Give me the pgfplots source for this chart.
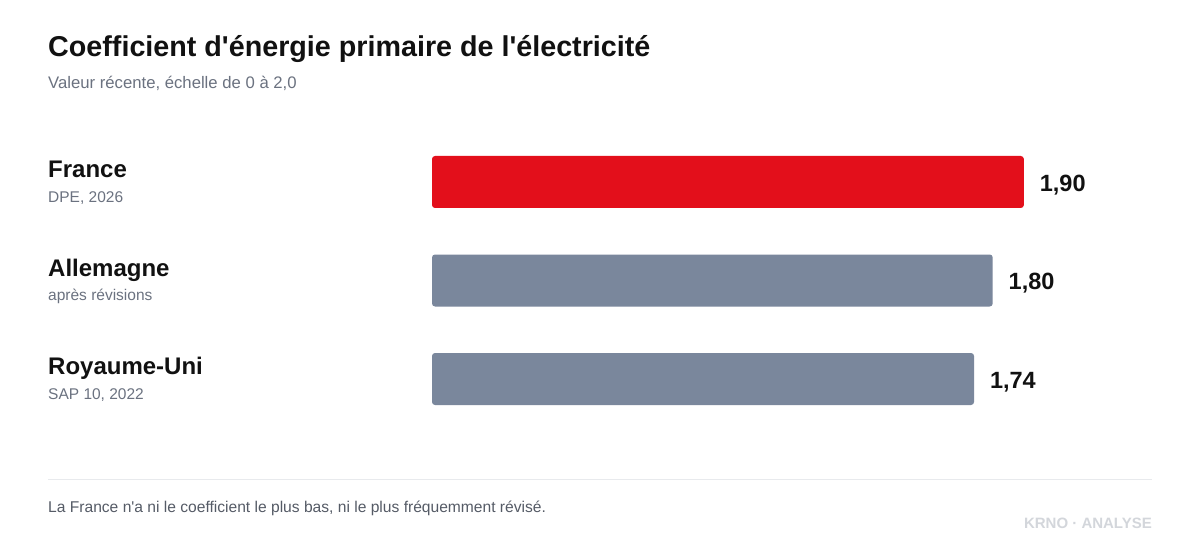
\documentclass[border=0pt]{standalone}
\usepackage{pgfplots}
\pgfplotsset{compat=1.18}
\usepackage{fontspec}
\setmainfont{Liberation Sans}[Ligatures=TeXOff]
\definecolor{barred}{HTML}{E30F1B}
\definecolor{bargray}{HTML}{7A879C}
\definecolor{titlec}{HTML}{111111}
\definecolor{subc}{HTML}{6B7280}
\definecolor{footc}{HTML}{555B66}
\definecolor{linec}{HTML}{E8EAED}
\definecolor{brandc}{HTML}{D3D6DB}
\newcommand{\fs}[1]{\fontsize{#1bp}{#1bp}\selectfont}
\begin{document}
\begin{tikzpicture}
\fill[white] (0bp,0bp) rectangle (1200bp,540bp);
% title / subtitle
\node[anchor=base west,inner sep=0,text=titlec] at (48bp,483.5bp) {\fs{28.7}\bfseries Coefficient d'énergie primaire de l'électricité};
\node[anchor=base west,inner sep=0,text=subc] at (48bp,451.5bp) {\fs{16.7}Valeur récente, échelle de 0 à 2,0};
% category labels
\node[anchor=base west,inner sep=0,text=titlec] at (48bp,362bp) {\fs{24}\bfseries France};
\node[anchor=base west,inner sep=0,text=subc] at (48bp,337.5bp) {\fs{15.5}DPE, 2026};
\node[anchor=base west,inner sep=0,text=titlec] at (48bp,263bp) {\fs{24}\bfseries Allemagne};
\node[anchor=base west,inner sep=0,text=subc] at (48bp,239.5bp) {\fs{15.5}après révisions};
\node[anchor=base west,inner sep=0,text=titlec] at (48bp,165bp) {\fs{24}\bfseries Royaume-Uni};
\node[anchor=base west,inner sep=0,text=subc] at (48bp,140.5bp) {\fs{15.5}SAP 10, 2022};
% bars
\begin{axis}[
  at={(432bp,111.75bp)}, anchor=south west,
  width=623bp, height=295.5bp, scale only axis,
  xmin=0, xmax=2, ymin=0.5, ymax=3.5, y dir=reverse,
  axis line style={draw=none}, ticks=none,
  xbar, bar width=52bp, bar shift=0pt,
  clip=false,
  nodes near coords,
  every node near coord/.append style={anchor=west, xshift=12.5bp, yshift=-3bp, font=\fs{23.5}\bfseries, text=titlec},
  /pgf/number format/.cd, use comma, fixed, fixed zerofill, precision=2, assume math mode=true,
]
\addplot[draw=none, fill=barred, rounded corners=3bp] coordinates {(1.90,1)};
\addplot[draw=none, fill=bargray, rounded corners=3bp] coordinates {(1.80,2)};
\addplot[draw=none, fill=bargray, rounded corners=3bp] coordinates {(1.74,3)};
\end{axis}
% footer
\draw[linec, line width=1bp] (48bp,60bp) -- (1152bp,60bp);
\node[anchor=base west,inner sep=0,text=footc] at (48bp,27.5bp) {\fs{15.6}La France n'a ni le coefficient le plus bas, ni le plus fréquemment révisé.};
\node[anchor=base east,inner sep=0,text=brandc] at (1152bp,12bp) {\fs{15}\bfseries KRNO · ANALYSE};
\end{tikzpicture}
\end{document}
